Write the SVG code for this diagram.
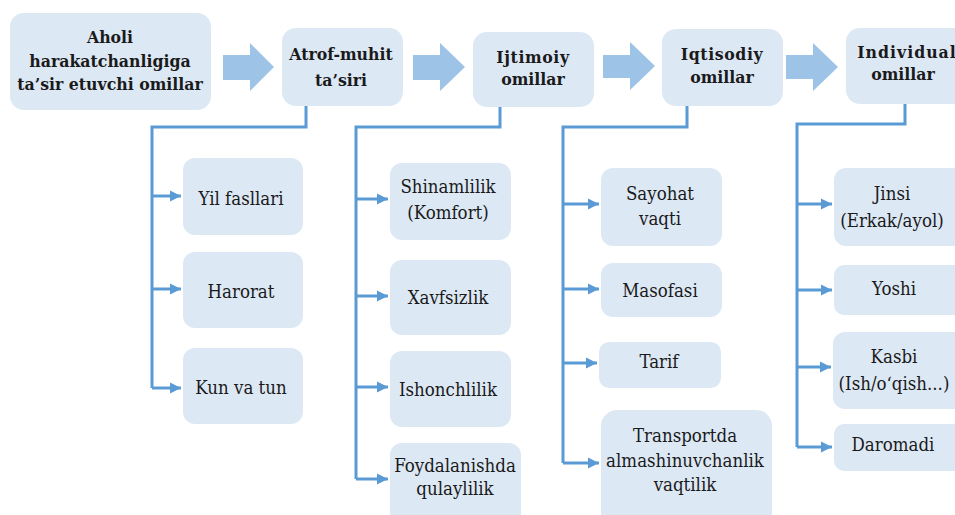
<svg xmlns="http://www.w3.org/2000/svg" width="955" height="515" viewBox="0 0 955 515">
<style>
.box{fill:#dde8f5;}
.big{fill:#9dc3e6;}
.t{font-family:"DejaVu Serif Condensed","DejaVu Serif",serif;font-stretch:condensed;font-size:18.5px;fill:#1a1a1a;text-anchor:middle;}
.b{font-weight:bold;font-size:17.5px;}
.ln{fill:none;stroke:#5b9bd5;stroke-width:3;}
</style>
<defs>
<marker id="ah" markerUnits="userSpaceOnUse" markerWidth="12" markerHeight="12" refX="11" refY="6" orient="auto">
<path d="M0,0.5 L11,6 L0,11.5 z" fill="#5b9bd5"/>
</marker>
</defs>
<rect width="955" height="515" fill="#ffffff"/>

<g id="arrows-main">
<path class="big" d="M223,55 H250 V43 L274,67 L250,91 V80 H223 z"/>
<path class="big" d="M413,55 H440 V43 L465,67 L440,91 V80 H413 z"/>
<path class="big" d="M603,55 H630 V42 L655,66 L630,90 V78 H603 z"/>
<path class="big" d="M786,55 H813 V43 L838,67 L813,91 V79 H786 z"/>
</g>

<g id="connectors">
<path class="ln" d="M306,106 V127 H152 V388"/>
<path class="ln" marker-end="url(#ah)" d="M152,196 H181"/>
<path class="ln" marker-end="url(#ah)" d="M152,289 H181"/>
<path class="ln" marker-end="url(#ah)" d="M152,388 H181"/>
<path class="ln" d="M500,107 V127 H356 V479"/>
<path class="ln" marker-end="url(#ah)" d="M356,199 H388"/>
<path class="ln" marker-end="url(#ah)" d="M356,296 H388"/>
<path class="ln" marker-end="url(#ah)" d="M356,387 H388"/>
<path class="ln" marker-end="url(#ah)" d="M356,479 H388"/>
<path class="ln" d="M687,106 V127 H563 V463"/>
<path class="ln" marker-end="url(#ah)" d="M563,204 H599"/>
<path class="ln" marker-end="url(#ah)" d="M563,289 H599"/>
<path class="ln" marker-end="url(#ah)" d="M563,363 H597"/>
<path class="ln" marker-end="url(#ah)" d="M563,463 H599"/>
<path class="ln" d="M905,104 V124 H797 V447"/>
<path class="ln" marker-end="url(#ah)" d="M797,204 H832"/>
<path class="ln" marker-end="url(#ah)" d="M797,290 H832"/>
<path class="ln" marker-end="url(#ah)" d="M797,367 H831"/>
<path class="ln" marker-end="url(#ah)" d="M797,447 H832"/>
</g>

<g id="n-main">
<rect class="box" x="10" y="13" width="201" height="97" rx="14"/>
<text class="t b" x="110" y="43">Aholi</text>
<text class="t b" x="110" y="67">harakatchanligiga</text>
<text class="t b" x="110" y="90">ta’sir etuvchi  omillar</text>
</g>
<g id="n-atrof">
<rect class="box" x="282" y="28" width="121" height="78" rx="14"/>
<text class="t b" x="341" y="60">Atrof-muhit</text>
<text class="t b" x="341" y="86">ta’siri</text>
</g>
<g id="n-ijtimoiy">
<rect class="box" x="473" y="32" width="121" height="75" rx="14"/>
<text class="t b" x="533" y="63" letter-spacing="0.6">Ijtimoiy</text>
<text class="t b" x="533" y="85">omillar</text>
</g>
<g id="n-iqtisodiy">
<rect class="box" x="662" y="29" width="121" height="77" rx="14"/>
<text class="t b" x="722" y="60" letter-spacing="0.6">Iqtisodiy</text>
<text class="t b" x="722" y="83">omillar</text>
</g>
<g id="n-individual">
<rect class="box" x="846" y="28" width="125" height="76" rx="14"/>
<text class="t b" x="907" y="58" letter-spacing="1">Individual</text>
<text class="t b" x="903" y="80">omillar</text>
</g>

<g id="n-yil">
<rect class="box" x="183" y="158" width="120" height="77" rx="12"/>
<text class="t" x="241" y="205">Yil fasllari</text>
</g>
<g id="n-harorat">
<rect class="box" x="183" y="252" width="120" height="76" rx="12"/>
<text class="t" x="241" y="298">Harorat</text>
</g>
<g id="n-kun">
<rect class="box" x="183" y="348" width="120" height="76" rx="12"/>
<text class="t" x="241" y="394">Kun va tun</text>
</g>

<g id="n-shinam">
<rect class="box" x="390" y="163" width="121" height="77" rx="12"/>
<text class="t" x="448" y="193">Shinamlilik</text>
<text class="t" x="448" y="219">(Komfort)</text>
</g>
<g id="n-xavf">
<rect class="box" x="390" y="260" width="121" height="75" rx="12"/>
<text class="t" x="448" y="304">Xavfsizlik</text>
</g>
<g id="n-ishonch">
<rect class="box" x="390" y="351" width="121" height="76" rx="12"/>
<text class="t" x="448" y="396">Ishonchlilik</text>
</g>
<g id="n-foyda">
<rect class="box" x="390" y="443" width="131" height="85" rx="12"/>
<text class="t" x="455" y="472">Foydalanishda</text>
<text class="t" x="455" y="495">qulaylilik</text>
</g>

<g id="n-sayohat">
<rect class="box" x="601" y="168" width="121" height="78" rx="12"/>
<text class="t" x="660" y="200">Sayohat</text>
<text class="t" x="660" y="225">vaqti</text>
</g>
<g id="n-masofa">
<rect class="box" x="601" y="263" width="121" height="54" rx="12"/>
<text class="t" x="660" y="297">Masofasi</text>
</g>
<g id="n-tarif">
<rect class="box" x="599" y="342" width="122" height="46" rx="10"/>
<text class="t" x="659" y="368">Tarif</text>
</g>
<g id="n-transport">
<rect class="box" x="601" y="410" width="171" height="118" rx="16"/>
<text class="t" x="685" y="442">Transportda</text>
<text class="t" x="685" y="467">almashinuvchanlik</text>
<text class="t" x="685" y="491">vaqtilik</text>
</g>

<g id="n-jinsi">
<rect class="box" x="834" y="168" width="135" height="78" rx="12"/>
<text class="t" x="892" y="200">Jinsi</text>
<text class="t" x="892" y="227">(Erkak/ayol)</text>
</g>
<g id="n-yoshi">
<rect class="box" x="834" y="265" width="135" height="50" rx="10"/>
<text class="t" x="894" y="295">Yoshi</text>
</g>
<g id="n-kasbi">
<rect class="box" x="833" y="332" width="136" height="77" rx="12"/>
<text class="t" x="894" y="363">Kasbi</text>
<text class="t" x="894" y="390">(Ish/o‘qish...)</text>
</g>
<g id="n-daromadi">
<rect class="box" x="834" y="424" width="135" height="47" rx="10"/>
<text class="t" x="893" y="451">Daromadi</text>
</g>
</svg>
